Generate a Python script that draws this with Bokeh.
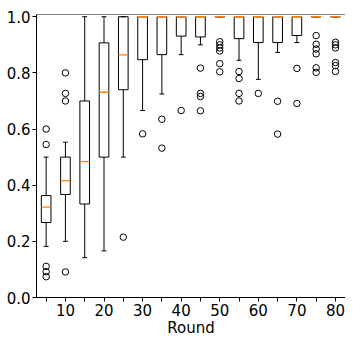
from bokeh.plotting import figure
from bokeh.models import Range1d, FixedTicker, PrintfTickFormatter, Span, ColumnDataSource
from bokeh.embed import file_html
from bokeh.resources import INLINE

# ---- data ----
rounds = [5, 10, 15, 20, 25, 30, 35, 40, 45, 50, 55, 60, 65, 70, 75, 80]
q1 = [0.267, 0.367, 0.333, 0.500, 0.740, 0.847, 0.865, 0.931, 0.928, 1.0, 0.922, 0.908, 0.908, 0.933, 1.0, 1.0]
median = [0.322, 0.416, 0.484, 0.731, 0.864, 1.0, 1.0, 1.0, 1.0, 1.0, 1.0, 1.0, 1.0, 1.0, 1.0, 1.0]
q3 = [0.363, 0.500, 0.700, 0.907, 1.0, 1.0, 1.0, 1.0, 1.0, 1.0, 1.0, 1.0, 1.0, 1.0, 1.0, 1.0]
whisker_low = [0.182, 0.200, 0.142, 0.166, 0.500, 0.666, 0.725, 0.865, 0.900, 1.0, 0.845, 0.777, 0.873, 0.908, 1.0, 1.0]
whisker_high = [0.500, 0.553, 1.0, 1.0, 1.0, 1.0, 1.0, 1.0, 1.0, 1.0, 1.0, 1.0, 1.0, 1.0, 1.0, 1.0]
outliers = {
    5: [0.600, 0.545, 0.111, 0.092, 0.074],
    10: [0.800, 0.727, 0.700, 0.091],
    25: [0.215],
    30: [0.583],
    35: [0.635, 0.532],
    40: [0.666],
    45: [0.817, 0.727, 0.716, 0.665],
    50: [0.911, 0.900, 0.889, 0.878, 0.833, 0.804],
    55: [0.805, 0.780, 0.727, 0.700],
    60: [0.727],
    65: [0.699, 0.582],
    70: [0.816, 0.691],
    75: [0.933, 0.902, 0.885, 0.868, 0.818, 0.802],
    80: [0.909, 0.900, 0.889, 0.837, 0.826, 0.805],
}
y_ticks = [0.0, 0.2, 0.4, 0.6, 0.8, 1.0]
x_ticks = rounds
x_label = "Round"

box_w = 2.5
cap_w = box_w / 2
FONT = "DejaVu Sans"

p = figure(width=345, height=339, output_backend="svg", toolbar_location=None,
           x_range=Range1d(2.5, 82.6), y_range=Range1d(0, 1.008),
           min_border_left=36, min_border_right=0, min_border_top=14, min_border_bottom=0)
p.outline_line_color = None
p.grid.visible = False
p.background_fill_color = "white"
p.border_fill_color = "white"

src = ColumnDataSource(dict(
    x=rounds, q1=q1, med=median, q3=q3, lo=whisker_low, hi=whisker_high,
    xl=[r - box_w / 2 for r in rounds], xr=[r + box_w / 2 for r in rounds],
    cl=[r - cap_w / 2 for r in rounds], cr=[r + cap_w / 2 for r in rounds],
))

# whiskers
p.segment(x0="x", y0="q3", x1="x", y1="hi", source=src, line_color="black", line_width=1)
p.segment(x0="x", y0="q1", x1="x", y1="lo", source=src, line_color="black", line_width=1)
# caps
p.segment(x0="cl", y0="hi", x1="cr", y1="hi", source=src, line_color="black", line_width=1)
p.segment(x0="cl", y0="lo", x1="cr", y1="lo", source=src, line_color="black", line_width=1)
# boxes
p.quad(left="xl", right="xr", bottom="q1", top="q3", source=src,
       fill_color=None, line_color="black", line_width=1)
# medians
p.segment(x0="xl", y0="med", x1="xr", y1="med", source=src, line_color="#ff7f0e", line_width=1.3)

# outliers
ox, oy = [], []
for r, vals in outliers.items():
    for v in vals:
        ox.append(r)
        oy.append(v)
p.scatter(ox, oy, marker="circle", size=6.5, fill_color=None, line_color="black", line_width=1)

# top spine
p.add_layout(Span(location=1.008, dimension="width", line_color="black", line_width=1))

# axes
xa = p.xaxis[0]
xa.ticker = FixedTicker(ticks=x_ticks, minor_ticks=[])
xa.major_label_overrides = {r: ("" if r % 10 else str(r)) for r in rounds}
xa.axis_label = x_label
ya = p.yaxis[0]
ya.ticker = FixedTicker(ticks=y_ticks, minor_ticks=[])
ya.formatter = PrintfTickFormatter(format="%.1f")

for ax in (xa, ya):
    ax.axis_line_color = "black"
    ax.axis_line_width = 1
    ax.major_tick_line_color = "black"
    ax.major_tick_out = 4
    ax.major_tick_in = 0
    ax.minor_tick_line_color = None
    ax.major_label_text_font = FONT
    ax.major_label_text_font_size = "15px"
    ax.major_label_text_color = "black"
    ax.major_label_standoff = 2
    ax.axis_label_text_font = FONT
    ax.axis_label_text_font_size = "15px"
    ax.axis_label_text_font_style = "normal"
    ax.axis_label_text_color = "black"
    ax.axis_label_standoff = 0

open("out.html", "w").write(file_html(p, INLINE))
